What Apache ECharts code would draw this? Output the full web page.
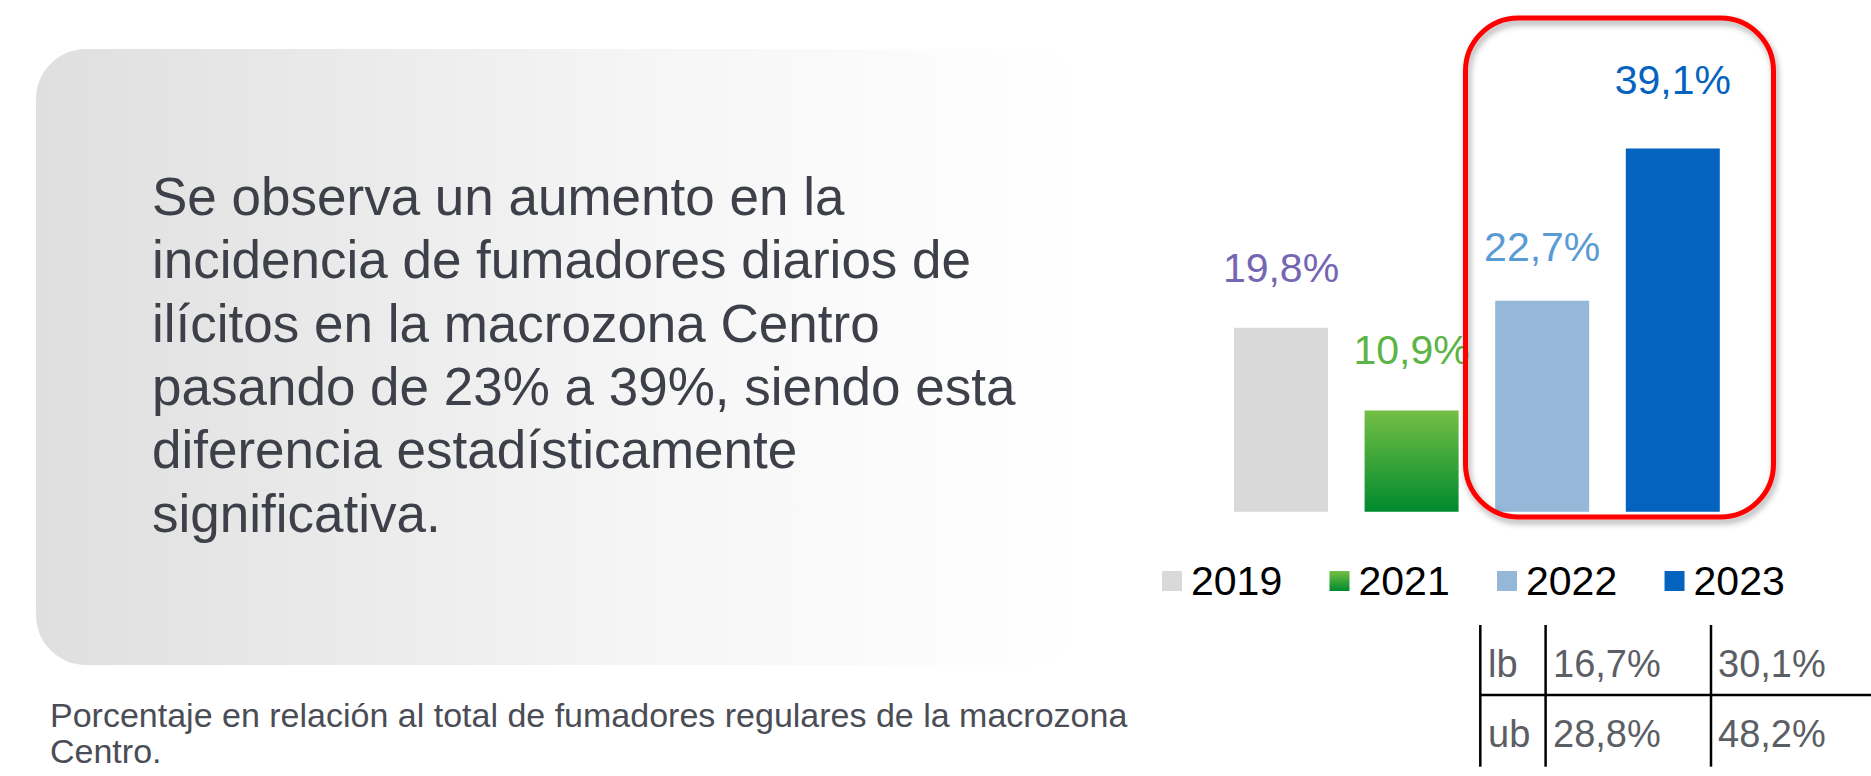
<!DOCTYPE html>
<html>
<head>
<meta charset="utf-8">
<script src="https://cdn.jsdelivr.net/npm/echarts@6/dist/echarts.min.js"></script>
<style>
  html, body { margin: 0; padding: 0; background: #ffffff; }
  #chart { width: 1871px; height: 776px; }
</style>
</head>
<body>
<div id="chart"></div>
<script>
// Daily smokers of illicit cigarettes, macrozona Centro (% of regular smokers)
const categories = ['2019', '2021', '2022', '2023'];
const shares = [19.8, 10.9, 22.7, 39.1];

// Confidence bounds for 2022 and 2023
const boundRows = ['lb', 'ub'];
const lowerBounds = [16.7, 30.1];
const upperBounds = [28.8, 48.2];

const summaryLines = [
  'Se observa un aumento en la',
  'incidencia de fumadores diarios de',
  'ilícitos en la macrozona Centro',
  'pasando de 23% a 39%, siendo esta',
  'diferencia estadísticamente',
  'significativa.'
];
const footnoteLines = [
  'Porcentaje en relación al total de fumadores regulares de la macrozona',
  'Centro.'
];

const FONT = "'Liberation Sans', Arial, Helvetica, sans-serif";
const fmt = v => v.toFixed(1).replace('.', ',') + '%';

const barFills = [
  '#d9d9d9',
  new echarts.graphic.LinearGradient(0, 0, 0, 1, [
    { offset: 0, color: '#74bf44' },
    { offset: 1, color: '#008a2e' }
  ]),
  '#95b7d8',
  '#0563c0'
];
const labelColors = ['#7665b3', '#5bb546', '#5b9bd5', '#0563c0'];
const labelGaps = [39, 39.5, 33, 48];

const chart = echarts.init(document.getElementById('chart'), null, { renderer: 'svg' });

const series = categories.map((name, i) => ({
  name: name,
  type: 'bar',
  stack: 'years',
  barWidth: 94,
  data: categories.map((_, j) => (j === i ? shares[i] : '-')),
  itemStyle: { color: barFills[i] },
  label: {
    show: true,
    position: 'top',
    distance: labelGaps[i],
    formatter: p => fmt(p.value),
    color: labelColors[i],
    fontSize: 41,
    lineHeight: 41,
    fontFamily: FONT
  },
  emphasis: { disabled: true }
}));

// Bounds table: grid lines and cells
const tableCols = [1480.3, 1545.6, 1711];
const tableTop = 625, tableBottom = 766.7, tableRule = 695;
const rowMid = [663.5, 733.5];
const cellX = [1488, 1553, 1718];
const tableGraphics = [];
tableCols.forEach(x => {
  tableGraphics.push({
    type: 'line', silent: true,
    shape: { x1: x, y1: tableTop, x2: x, y2: tableBottom },
    style: { stroke: '#000000', lineWidth: 2.5 }
  });
});
tableGraphics.push({
  type: 'line', silent: true,
  shape: { x1: tableCols[0], y1: tableRule, x2: 1871, y2: tableRule },
  style: { stroke: '#000000', lineWidth: 2.5 }
});
const boundValues = [lowerBounds, upperBounds];
boundRows.forEach((rowName, r) => {
  const cells = [rowName].concat(boundValues[r].map(fmt));
  cells.forEach((txt, c) => {
    tableGraphics.push({
      type: 'text', silent: true,
      x: cellX[c], y: rowMid[r],
      style: {
        text: txt, fontSize: 38, fontFamily: FONT, fill: '#5c5e65',
        align: 'left', verticalAlign: 'middle'
      }
    });
  });
});

chart.setOption({
  animation: false,
  grid: { left: 1215.7, right: 132.9, top: 47.2, bottom: 264.3 },
  xAxis: { type: 'category', data: categories, show: false },
  yAxis: { type: 'value', min: 0, max: 50, show: false },
  legend: {
    data: categories,
    left: 1162,
    top: 556.5,
    padding: 0,
    icon: 'rect',
    itemWidth: 20,
    itemHeight: 20,
    itemGap: 47.3,
    selectedMode: false,
    textStyle: {
      fontSize: 41, lineHeight: 41, fontFamily: FONT, color: '#000000',
      padding: [0, 0, 8, 4]
    }
  },
  graphic: [
    {
      type: 'rect', silent: true, z: 0,
      shape: { x: 36, y: 49, width: 1044, height: 616, r: 50 },
      style: {
        fill: new echarts.graphic.LinearGradient(0, 0, 1, 0, [
          { offset: 0, color: '#dfdfdf' },
          { offset: 0.6, color: '#f6f6f6' },
          { offset: 1, color: '#ffffff' }
        ])
      }
    },
    {
      type: 'text', silent: true, z: 1,
      x: 152, y: 165,
      style: {
        text: summaryLines.join('\n'),
        fontSize: 53, lineHeight: 63.3, fontFamily: FONT, fill: '#3d4048',
        align: 'left', verticalAlign: 'top'
      }
    },
    {
      type: 'text', silent: true, z: 1,
      x: 50, y: 696.6,
      style: {
        text: footnoteLines.join('\n'),
        fontSize: 34, lineHeight: 36.6, fontFamily: FONT, fill: '#4a4d55',
        align: 'left', verticalAlign: 'top'
      }
    },
    {
      type: 'rect', silent: true, z: 100,
      shape: { x: 1465.5, y: 18, width: 308, height: 499, r: 53 },
      style: {
        fill: 'none', stroke: '#ff0000', lineWidth: 5,
        shadowBlur: 6, shadowColor: 'rgba(0,0,0,0.35)',
        shadowOffsetX: 2, shadowOffsetY: 4
      }
    }
  ].concat(tableGraphics),
  series: series
});
</script>
</body>
</html>
